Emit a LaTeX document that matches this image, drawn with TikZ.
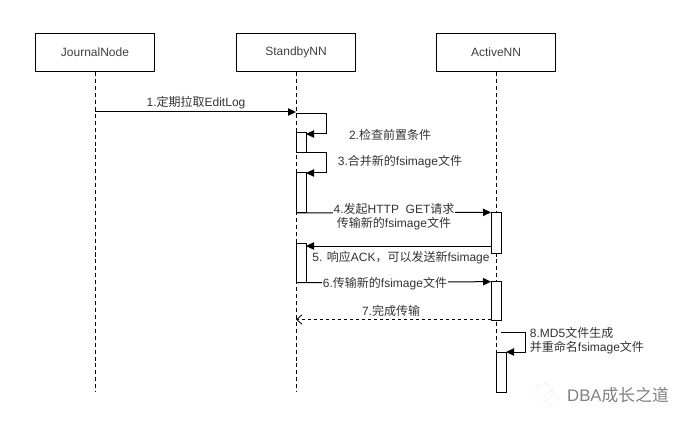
\documentclass[tikz,border=0pt]{standalone}
\usepackage{fontspec}
\setmainfont{Liberation Sans}
\newfontfamily\cjk{Noto Sans CJK SC}
\usetikzlibrary{arrows.meta}
\begin{document}
\begin{tikzpicture}[x=0.75pt, y=-0.75pt, font=\fontsize{9pt}{10.5pt}\selectfont, text=black!80,
    seqBoxStyle/.style={draw, line width=0.6pt, minimum width=89pt, minimum height=29pt, inner sep=0pt, text=black!75},
    seqBarStyle/.style={draw, fill=white, line width=0.75pt, minimum width=7.5pt, inner sep=0pt, outer sep=0pt},
    seqLifeStyle/.style={line width=0.6pt, dashed, dash pattern=on 3pt off 2.2pt},
    seqMsgStyle/.style={-{Triangle[length=6pt,width=5.5pt]}, line width=0.75pt},
    seqBackStyle/.style={-{Straight Barb[length=4pt,width=7pt]}, line width=0.6pt, dash pattern=on 2.5pt off 2pt},
    seqTextStyle/.style={inner sep=0.5pt, align=center},
    seqMaskStyle/.style={seqTextStyle, fill=white}]
    \useasboundingbox (0, 0) rectangle (689, 424);

    % Participant boxes
    \node[seqBoxStyle] (journal) at (95, 52.5) {JournalNode};
    \node[seqBoxStyle] (standby) at (296, 52.5) {StandbyNN};
    \node[seqBoxStyle] (active) at (496, 52.5) {ActiveNN};

    % Lifeline ends
    \coordinate (journalEnd) at (95, 392);
    \coordinate (standbyEnd) at (296, 392);
    \coordinate (activeEnd) at (496, 392);
    \draw[seqLifeStyle] (journal) -- (journalEnd);
    \draw[seqLifeStyle] (standby) -- (standbyEnd);
    \draw[seqLifeStyle] (active) -- (activeEnd);

    % Activation bars
    \node[seqBarStyle, minimum height=14.5pt] (barCheck) at (301, 142.5) {};
    \node[seqBarStyle, minimum height=30pt] (barMerge) at (301, 193) {};
    \node[seqBarStyle, minimum height=29.5pt] (barAck) at (301, 263) {};
    \node[seqBarStyle, minimum height=31pt] (barGet) at (496, 233) {};
    \node[seqBarStyle, minimum height=29pt] (barFile) at (496, 301) {};
    \node[seqBarStyle, minimum height=30pt] (barMd) at (501, 372) {};

    % Free ends of the messages
    \coordinate (pullFrom) at (95, 112);
    \coordinate (pullTo) at (296, 112);
    \coordinate (checkFrom) at (296, 114);
    \coordinate (checkTurnA) at (326, 114);
    \coordinate (checkTurnB) at (326, 134);
    \coordinate (checkTo) at (306, 134);
    \coordinate (mergeFrom) at (306, 153);
    \coordinate (mergeTurnA) at (326, 153);
    \coordinate (mergeTurnB) at (326, 173);
    \coordinate (mergeTo) at (306, 173);
    \coordinate (ackFrom) at (491, 246);
    \coordinate (ackTo) at (306, 246);
    \coordinate (doneTo) at (296, 319.5);
    \coordinate (doneFrom) at (491, 319.5);
    \coordinate (mdFrom) at (501, 332);
    \coordinate (mdTurnA) at (525, 332);
    \coordinate (mdTurnB) at (525, 352);
    \coordinate (mdTo) at (506, 352);

    \draw[seqMsgStyle] (pullFrom) -- (pullTo);
    \draw[seqMsgStyle] (checkFrom) -- (checkTurnA) -- (checkTurnB) -- (checkTo);
    \draw[seqMsgStyle] (mergeFrom) -- (mergeTurnA) -- (mergeTurnB) -- (mergeTo);
    \draw[seqMsgStyle] (barMerge.south west) -- (barGet.north west);
    \draw[seqMsgStyle] (ackFrom) -- (ackTo);
    \draw[seqMsgStyle] (barAck.south west) -- (barFile.north west);
    \draw[seqBackStyle] (doneFrom) -- (doneTo);
    \draw[seqMsgStyle] (mdFrom) -- (mdTurnA) -- (mdTurnB) -- (mdTo);

    % Message labels
    \node[seqTextStyle] (pullText) at (196, 103) {1.{\cjk 定期拉取}EditLog};
    \node[seqTextStyle] (checkText) at (390, 135) {2.{\cjk 检查前置条件}};
    \node[seqTextStyle] (mergeText) at (400, 162) {3.{\cjk 合并新的}fsimage{\cjk 文件}};
    \node[seqMaskStyle] (getText) at (394, 217) {4.{\cjk 发起}HTTP\ \ GET{\cjk 请求}\\{\cjk 传输新的}fsimage{\cjk 文件}};
    \node[seqTextStyle] (ackText) at (401, 257.5) {5. {\cjk 响应}ACK{\cjk ，可以发送新}fsimage};
    \node[seqMaskStyle] (fileText) at (385, 284) {6.{\cjk 传输新的}fsimage{\cjk 文件}};
    \node[seqTextStyle] (doneText) at (391, 311) {7.{\cjk 完成传输}};
    \node[seqTextStyle, align=left, anchor=west] (mdText) at (529, 341) {8.MD5{\cjk 文件生成}\\{\cjk 并重命名}fsimage{\cjk 文件}};

    % Watermark
    \node[draw=black!22, dotted, circle, minimum size=13pt, inner sep=0pt] (markBig) at (544, 392) {};
    \node[draw=black!22, dotted, circle, minimum size=10pt, inner sep=0pt] (markSmall) at (551, 398) {};
    \node[text=black!50, font=\fontsize{12.6pt}{14pt}\selectfont] (markText) at (618, 395) {DBA{\cjk 成长之道}};
\end{tikzpicture}
\end{document}
